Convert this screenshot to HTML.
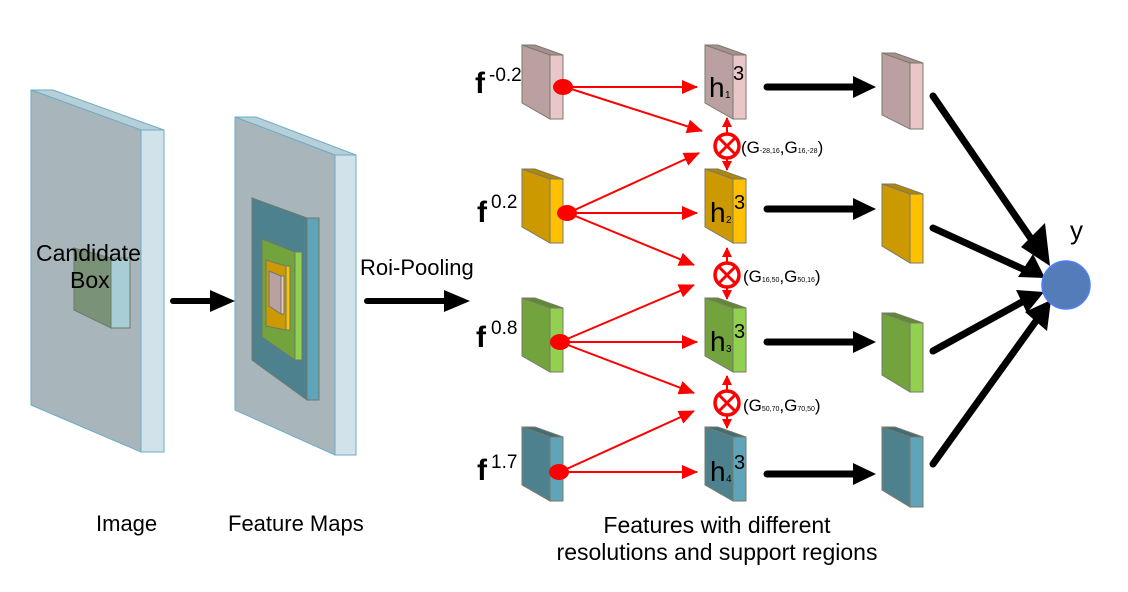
<!DOCTYPE html>
<html><head><meta charset="utf-8"><style>
html,body{margin:0;padding:0;background:#fff;}
svg{display:block;font-family:"Liberation Sans",sans-serif;}
</style></head><body>
<svg width="1128" height="592" viewBox="0 0 1128 592" xmlns="http://www.w3.org/2000/svg">
<defs>
<marker id="ra" markerWidth="16" markerHeight="14" refX="15" refY="7" orient="auto" markerUnits="userSpaceOnUse" viewBox="0 0 16 14"><path d="M0,0 L16,7 L0,14 z" fill="#f00"/></marker>
<marker id="rs" markerWidth="10" markerHeight="10" refX="9" refY="5" orient="auto" markerUnits="userSpaceOnUse" viewBox="0 0 10 10"><path d="M0,0 L10,5 L0,10 z" fill="#f00"/></marker>
</defs>
<g stroke="#6aaec4" stroke-width="1">
<polygon points="31,90 53,90 164,130 141,130" fill="#b7cfd8"/>
<polygon points="31,90 141,130 141,452 31,405" fill="#a8b6bb"/>
<polygon points="141,130 164,130 164,452 141,452" fill="#d1e2ea"/>
<polygon points="235,117 256,117 356,155 335,155" fill="#b7cfd8"/>
<polygon points="235,117 335,155 335,455 235,410" fill="#a8b6bb"/>
<polygon points="335,155 356,155 356,455 335,455" fill="#d1e2ea"/>
</g>
<g stroke="#6b7a6a" stroke-width="1">
<polygon points="74,248 111,258 111,328 74,310" fill="#7a9278"/>
<polygon points="111,258 130,258 130,328 111,328" fill="#a9cdd6"/>
<polygon points="252,198 307,218 307,400 252,360" fill="#4e818e"/>
<polygon points="307,218 319,218 319,400 307,400" fill="#5fa4b8"/>
<polygon points="262,239 295,252 295,360 262,337" fill="#72a33d"/>
<polygon points="295,252 302,252 302,360 295,360" fill="#92d050"/>
<polygon points="266,260 286,266 286,330 266,326" fill="#cc9a00"/>
<polygon points="286,266 290,266 290,330 286,330" fill="#ffc000"/>
<polygon points="269,271 281,276 281,314 269,306" fill="#baa0a0"/>
<polygon points="281,276 284,276 284,314 281,314" fill="#eac6c8"/>
</g>
<text x="36" y="261" font-size="23">Candidate</text>
<text x="70" y="288" font-size="23">Box</text>
<g stroke="#000" stroke-width="6" stroke-linecap="round">
<line x1="173" y1="301" x2="212" y2="301"/>
<line x1="367" y1="301" x2="446" y2="301"/>
</g>
<polygon points="210,290 235,301 210,312" fill="#000"/>
<polygon points="444,290 470,301 444,312" fill="#000"/>
<text x="360" y="275" font-size="22">Roi-Pooling</text>
<text x="96" y="531" font-size="22">Image</text>
<text x="228" y="531" font-size="22">Feature Maps</text>
<text x="717" y="533" font-size="23" text-anchor="middle">Features with different</text>
<text x="717" y="560" font-size="23" text-anchor="middle">resolutions and support regions</text>

<g stroke="#7a7a6a" stroke-width="1">
<g><polygon points="522,45 535,45 563,55 550,55" fill="#a89090"/><polygon points="522,45 550,55 550,119 522,103" fill="#baa0a0"/><polygon points="550,55 563,55 563,119 550,119" fill="#eac6c8"/></g>
<g transform="translate(0,124)"><polygon points="522,45 535,45 563,55 550,55" fill="#b08800"/><polygon points="522,45 550,55 550,119 522,103" fill="#cc9a00"/><polygon points="550,55 563,55 563,119 550,119" fill="#ffc000"/></g>
<g transform="translate(0,253)"><polygon points="522,45 535,45 563,55 550,55" fill="#5f8a30"/><polygon points="522,45 550,55 550,119 522,103" fill="#72a33d"/><polygon points="550,55 563,55 563,119 550,119" fill="#92d050"/></g>
<g transform="translate(0,382)"><polygon points="522,45 535,45 563,55 550,55" fill="#3f6d78"/><polygon points="522,45 550,55 550,119 522,103" fill="#4e818e"/><polygon points="550,55 563,55 563,119 550,119" fill="#5fa4b8"/></g>
<g transform="translate(183,0)"><polygon points="522,45 535,45 563,55 550,55" fill="#a89090"/><polygon points="522,45 550,55 550,119 522,103" fill="#baa0a0"/><polygon points="550,55 563,55 563,119 550,119" fill="#eac6c8"/></g>
<g transform="translate(183,124)"><polygon points="522,45 535,45 563,55 550,55" fill="#b08800"/><polygon points="522,45 550,55 550,119 522,103" fill="#cc9a00"/><polygon points="550,55 563,55 563,119 550,119" fill="#ffc000"/></g>
<g transform="translate(183,253)"><polygon points="522,45 535,45 563,55 550,55" fill="#5f8a30"/><polygon points="522,45 550,55 550,119 522,103" fill="#72a33d"/><polygon points="550,55 563,55 563,119 550,119" fill="#92d050"/></g>
<g transform="translate(183,382)"><polygon points="522,45 535,45 563,55 550,55" fill="#3f6d78"/><polygon points="522,45 550,55 550,119 522,103" fill="#4e818e"/><polygon points="550,55 563,55 563,119 550,119" fill="#5fa4b8"/></g>
<g transform="translate(360,8)"><polygon points="522,45 535,45 563,55 550,55" fill="#a89090"/><polygon points="522,45 550,55 550,121 522,107" fill="#baa0a0"/><polygon points="550,55 563,55 563,121 550,121" fill="#eac6c8"/></g>
<g transform="translate(360,139)"><polygon points="522,45 535,45 563,55 550,55" fill="#b08800"/><polygon points="522,45 550,55 550,124 522,107" fill="#cc9a00"/><polygon points="550,55 563,55 563,124 550,124" fill="#ffc000"/></g>
<g transform="translate(360,268)"><polygon points="522,45 535,45 563,55 550,55" fill="#5f8a30"/><polygon points="522,45 550,55 550,124 522,107" fill="#72a33d"/><polygon points="550,55 563,55 563,124 550,124" fill="#92d050"/></g>
<g transform="translate(360,382)"><polygon points="522,45 535,45 563,55 550,55" fill="#3f6d78"/><polygon points="522,45 550,55 550,125 522,108" fill="#4e818e"/><polygon points="550,55 563,55 563,125 550,125" fill="#5fa4b8"/></g>
</g>

<g font-size="30" font-weight="bold"><text x="475" y="93">f</text><text x="477" y="222">f</text><text x="476" y="347">f</text><text x="477" y="480">f</text></g>
<g font-size="19"><text x="489" y="81">-0.2</text><text x="491" y="208">0.2</text><text x="491" y="334">0.8</text><text x="491" y="468">1.7</text></g>
<g font-size="28"><text x="709" y="97">h</text><text x="710" y="222">h</text><text x="710" y="351">h</text><text x="710" y="481">h</text></g>
<g font-size="10"><text x="725" y="98">1</text><text x="726" y="223">2</text><text x="726" y="352">3</text><text x="726" y="482">4</text></g>
<g font-size="20"><text x="733" y="80">3</text><text x="734" y="209">3</text><text x="734" y="338">3</text><text x="734" y="469">3</text></g>

<g stroke="#f00" stroke-width="2" fill="none" marker-end="url(#ra)">
<line x1="565" y1="87" x2="697" y2="87"/>
<line x1="565" y1="87" x2="702" y2="131"/>
<line x1="568" y1="213" x2="699" y2="153"/>
<line x1="568" y1="213" x2="697" y2="213"/>
<line x1="568" y1="213" x2="694" y2="265"/>
<line x1="560" y1="342" x2="694" y2="285"/>
<line x1="560" y1="342" x2="697" y2="342"/>
<line x1="560" y1="342" x2="694" y2="393"/>
<line x1="560" y1="472" x2="694" y2="411"/>
<line x1="560" y1="472" x2="697" y2="472"/>
</g>
<g stroke="#f00" stroke-width="2" fill="none" marker-end="url(#rs)">
<line x1="727" y1="133" x2="727" y2="118"/><line x1="727" y1="159" x2="727" y2="170"/>
<line x1="727" y1="262" x2="727" y2="248"/><line x1="727" y1="288" x2="727" y2="299"/>
<line x1="727" y1="390" x2="727" y2="376"/><line x1="727" y1="416" x2="727" y2="428"/>
</g>
<g fill="#f00">
<ellipse cx="563" cy="87" rx="10" ry="8"/><ellipse cx="567" cy="213" rx="10" ry="8"/>
<ellipse cx="560" cy="342" rx="10" ry="8"/><ellipse cx="559" cy="472" rx="10" ry="8"/>
</g>
<g stroke="#f00" stroke-width="3.5" fill="#fff">
<circle cx="727" cy="146" r="12"/><circle cx="727" cy="275" r="12"/><circle cx="727" cy="403" r="12"/>
</g>
<g stroke="#f00" stroke-width="3">
<path d="M719,138 L735,154 M735,138 L719,154"/>
<path d="M719,267 L735,283 M735,267 L719,283"/>
<path d="M719,395 L735,411 M735,395 L719,411"/>
</g>
<g font-size="17">
<text x="741" y="153">(G<tspan font-size="7">-28,16</tspan>,G<tspan font-size="7">16,-28</tspan>)</text>
<text x="743" y="282">(G<tspan font-size="7">16,50</tspan>,G<tspan font-size="7">50,16</tspan>)</text>
<text x="743" y="411">(G<tspan font-size="7">50,70</tspan>,G<tspan font-size="7">70,50</tspan>)</text>
</g>

<g stroke="#000" stroke-width="7" stroke-linecap="round">
<line x1="767" y1="87" x2="856" y2="87"/><line x1="767" y1="209" x2="856" y2="209"/>
<line x1="767" y1="342" x2="856" y2="342"/><line x1="767" y1="474" x2="856" y2="474"/>
<line x1="933" y1="96" x2="1034" y2="243"/>
<line x1="933" y1="228" x2="1025" y2="270"/>
<line x1="933" y1="351" x2="1022" y2="302"/>
<line x1="933" y1="464" x2="1036" y2="321"/>
</g>
<g fill="#000">
<polygon points="853,76 876,87 853,98"/><polygon points="853,198 876,209 853,220"/>
<polygon points="853,331 876,342 853,353"/><polygon points="853,463 876,474 853,485"/>
<polygon points="1045,223 1050,266 1021,247"/>
<polygon points="1033,254 1045,278 1018,277"/>
<polygon points="1016,290 1044,292 1027,313"/>
<polygon points="1025,312 1051,300 1047,331"/>
</g>
<circle cx="1066" cy="285" r="24" fill="#537cb9" stroke="#4f7fff" stroke-width="1.5"/>
<text x="1070" y="239" font-size="26">y</text>
</svg>
</body></html>
